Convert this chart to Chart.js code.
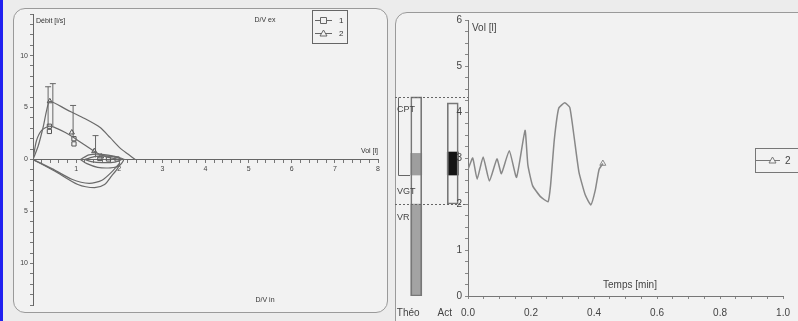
<!DOCTYPE html>
<html>
<head>
<meta charset="utf-8">
<script src="https://cdn.jsdelivr.net/npm/chart.js@4"></script>
<style>
body { margin: 0; background: #ececec; width: 798px; height: 321px; overflow: hidden; position: relative; }
.panel { position: absolute; border: 1px solid #9a9a9a; border-radius: 12px; background: #f2f2f2; }
#p1 { left: 13px; top: 8px; width: 373px; height: 303px; }
#p2 { left: 395px; top: 12px; width: 430px; height: 340px; }
#strip { position: absolute; left: 0; top: 0; width: 3px; height: 321px; background: #2020f0; }
canvas { position: absolute; top: 0; }
</style>
</head>
<body>
<div id="strip"></div>
<div class="panel" id="p1"></div>
<div class="panel" id="p2"></div>
<canvas id="loop" width="395" height="321" style="left:0"></canvas>
<canvas id="bars" width="80" height="321" style="left:392px"></canvas>
<canvas id="spiro" width="403" height="321" style="left:395px"></canvas>
<script>
// boucles débit-volume : vol [l], débit [l/s]
const exp2Vol  = [0, 0.12, 0.24, 0.32, 0.39, 0.78, 1.17, 1.55, 1.79, 2.02, 2.21, 2.37];
const exp2Flow = [0, 1.3, 3.2, 4.8, 5.6, 4.8, 4.0, 3.1, 2.1, 1.1, 0.5, 0];
const insp2Vol  = [0, 0.5, 1.04, 1.43, 1.66, 1.82, 1.97, 2.01];
const insp2Flow = [0, -1.1, -2.4, -2.7, -2.4, -1.6, -0.8, -0.3];
const exp1Vol  = [0, 0.08, 0.2, 0.38, 0.55, 0.75, 0.95, 1.2, 1.45, 1.7, 1.95, 2.15];
const exp1Flow = [0, 1.8, 2.8, 3.2, 3.0, 2.6, 2.1, 1.4, 0.7, 0.25, 0.05, 0];
const insp1Vol  = [0, 0.45, 0.9, 1.3, 1.6, 1.85, 2.0];
const insp1Flow = [0, -0.9, -1.9, -2.3, -2.0, -1.1, -0.4];
const tidal1Vol  = [1.1, 1.3, 1.6, 1.9, 2.1, 2.0, 1.8, 1.5, 1.25, 1.1];
const tidal1Flow = [0, 0.45, 0.5, 0.3, 0, -0.6, -0.8, -0.75, -0.4, 0];
const tidal2Vol  = [1.2, 1.45, 1.7, 1.95, 2.05, 1.9, 1.6, 1.35, 1.2];
const tidal2Flow = [0, 0.3, 0.35, 0.2, 0, -0.25, -0.3, -0.2, 0];
const mark1Vol  = [0.38, 0.38, 0.95, 0.95, 1.55, 1.75, 1.95];
const mark1Flow = [3.2, 2.7, 2.0, 1.5, 0.1, 0.05, 0.05];
const mark2Vol  = [0.39, 0.9, 1.42, 1.58];
const mark2Flow = [5.6, 2.6, 0.8, 0.3];
const errVol  = [0.35, 0.46, 0.93, 1.45];
const errLow  = [3.2, 3.2, 2.2, 0.2];
const errHigh = [7.0, 7.3, 5.2, 2.3];

// spirogramme : temps [min], vol [l]
const timeMin = [0.0, 0.015, 0.029, 0.048, 0.068, 0.092, 0.106, 0.131, 0.154, 0.181, 0.19, 0.205, 0.23, 0.254,
                 0.262, 0.274, 0.288, 0.307, 0.323, 0.336, 0.352, 0.372, 0.39, 0.404, 0.416, 0.428];
const volL    = [2.75, 3.0, 2.54, 3.02, 2.5, 2.98, 2.66, 3.16, 2.58, 3.6, 2.85, 2.4, 2.16, 2.05,
                 2.4, 3.4, 4.08, 4.2, 4.1, 3.5, 2.7, 2.2, 1.98, 2.3, 2.75, 2.88];

// colonnes Théo / Act
const barCats = ['Théo', 'Act'];
const frameRange = [[0, 4.33], [2.0, 4.2]];
const vrRange = [[0, 2.0], null];
const vgtRange = [[2.63, 3.1], [2.63, 3.13]];
const levelLines = [4.33, 2.0];
const predBox = [2.63, 4.33];
const levelNames = ['CPT', 'VGT', 'VR'];
const levelNameAt = [4.05, 2.27, 1.7];

const grey = '#6a6a6a';
const font = '"Liberation Sans", Arial, sans-serif';
const pts = (xs, ys) => xs.map((x, i) => ({x: x, y: ys[i]}));

function curve(xs, ys) {
  return {data: pts(xs, ys), showLine: true, borderColor: grey, borderWidth: 1.2, pointRadius: 0, tension: 0.25};
}
function marks(xs, ys, style) {
  return {data: pts(xs, ys), showLine: false, pointStyle: style, pointRadius: 3,
          borderColor: '#555', borderWidth: 1, backgroundColor: 'rgba(0,0,0,0)'};
}

const loopSets = [
  curve(exp2Vol, exp2Flow), curve(insp2Vol, insp2Flow),
  curve(exp1Vol, exp1Flow), curve(insp1Vol, insp1Flow),
  curve(tidal1Vol, tidal1Flow), curve(tidal2Vol, tidal2Flow),
  marks(mark1Vol, mark1Flow, 'rect'), marks(mark2Vol, mark2Flow, 'triangle')
];
errVol.forEach((v, i) => {
  loopSets.push({data: [{x: v, y: errLow[i]}, {x: v, y: errHigh[i]}], showLine: true,
    borderColor: '#666', borderWidth: 1, pointStyle: 'line', pointRadius: [0, 3]});
});

const loopNotes = {
  id: 'loopNotes',
  afterDraw(chart) {
    const c = chart.ctx, x = chart.scales.x, y = chart.scales.y;
    c.save();
    c.fillStyle = '#333';
    c.font = '7px ' + font;
    c.textBaseline = 'middle';
    c.textAlign = 'left';
    c.fillText('Débit [l/s]', x.left + 3, y.top + 7);
    c.textAlign = 'center';
    c.fillText('D/V ex', 265, y.top + 6);
    c.fillText('D/V in', 265, y.bottom - 5);
    c.textAlign = 'right';
    c.fillText('Vol [l]', x.right, y.getPixelForValue(0) - 8);
    // légende
    c.strokeStyle = '#666';
    c.lineWidth = 1;
    c.strokeRect(312.5, 10.5, 35, 33);
    [20, 33].forEach((ly, i) => {
      c.beginPath(); c.moveTo(315, ly + 0.5); c.lineTo(332, ly + 0.5); c.stroke();
      c.beginPath();
      if (i === 0) c.rect(320.5, ly - 2.5, 6, 6);
      else { c.moveTo(323.5, ly - 3); c.lineTo(327, ly + 3); c.lineTo(320, ly + 3); c.closePath(); }
      c.fillStyle = '#f2f2f2'; c.fill(); c.stroke();
      c.fillStyle = '#333';
      c.textAlign = 'left';
      c.font = '8px ' + font;
      c.fillText(String(i + 1), 339, ly + 1);
    });
    c.restore();
  }
};

new Chart(document.getElementById('loop'), {
  type: 'scatter',
  data: {datasets: loopSets},
  options: {
    responsive: false,
    animation: false,
    layout: {padding: {left: 0, top: 14, right: 17, bottom: 16}},
    plugins: {legend: {display: false}, tooltip: {enabled: false}},
    scales: {
      x: {
        type: 'linear', min: 0, max: 8, position: {y: 0},
        border: {color: '#666'},
        grid: {drawOnChartArea: false, tickLength: 3, color: '#777'},
        ticks: {stepSize: 0.2, autoSkip: false, maxRotation: 0, padding: 2, color: '#444',
          font: {size: 7, family: font},
          callback: v => (v > 0.5 && Math.abs(v - Math.round(v)) < 1e-6) ? String(Math.round(v)) : ''}
      },
      y: {
        min: -14, max: 14,
        afterFit: s => { s.width = 33; },
        border: {color: '#666'},
        grid: {drawOnChartArea: false, tickLength: 3, color: '#777'},
        ticks: {stepSize: 1, autoSkip: false, padding: 2, color: '#444', font: {size: 7, family: font},
          callback: v => (Math.round(v) % 5 === 0) ? String(Math.abs(Math.round(v))) : ''}
      }
    }
  },
  plugins: [loopNotes]
});

const barNotes = {
  id: 'barNotes',
  afterDraw(chart) {
    const c = chart.ctx, y = chart.scales.y;
    c.save();
    c.strokeStyle = '#666';
    c.lineWidth = 1;
    c.setLineDash([2, 2]);
    levelLines.forEach(v => {
      const py = Math.round(y.getPixelForValue(v)) + 0.5;
      c.beginPath(); c.moveTo(3, py); c.lineTo(76, py); c.stroke();
    });
    c.setLineDash([]);
    const top = Math.round(y.getPixelForValue(predBox[1])) + 0.5;
    const bot = Math.round(y.getPixelForValue(predBox[0])) + 0.5;
    c.beginPath(); c.moveTo(6.5, top); c.lineTo(6.5, bot); c.lineTo(18, bot); c.stroke();
    c.fillStyle = '#444';
    c.font = '9px ' + font;
    c.textBaseline = 'middle';
    c.textAlign = 'left';
    levelNames.forEach((n, i) => c.fillText(n, 5, y.getPixelForValue(levelNameAt[i])));
    c.restore();
  }
};

new Chart(document.getElementById('bars'), {
  type: 'bar',
  data: {
    labels: barCats,
    datasets: [
      {data: frameRange, backgroundColor: 'rgba(0,0,0,0)', borderColor: '#777', borderWidth: 1,
       borderSkipped: false, grouped: false, barThickness: 11},
      {data: vrRange, backgroundColor: '#a3a3a3', grouped: false, barThickness: 11},
      {data: vgtRange, backgroundColor: ['#9e9e9e', '#151515'], grouped: false, barThickness: 11}
    ]
  },
  options: {
    responsive: false,
    animation: false,
    layout: {padding: {left: 6, top: 20, right: 1, bottom: 0}},
    plugins: {legend: {display: false}, tooltip: {enabled: false}},
    scales: {
      x: {
        afterFit: s => { s.height = 25; },
        border: {display: false},
        grid: {display: false, drawTicks: false},
        ticks: {padding: 11, labelOffset: -8, color: '#444', font: {size: 10, family: font}}
      },
      y: {display: false, min: 0, max: 6}
    }
  },
  plugins: [barNotes]
});

const spiroNotes = {
  id: 'spiroNotes',
  afterDraw(chart) {
    const c = chart.ctx, x = chart.scales.x, y = chart.scales.y;
    c.save();
    c.fillStyle = '#444';
    c.font = '10px ' + font;
    c.textBaseline = 'middle';
    c.textAlign = 'left';
    c.fillText('Vol [l]', x.left + 4, y.top + 8);
    c.textAlign = 'center';
    c.fillText('Temps [min]', 235, y.bottom - 11);
    // légende
    c.strokeStyle = '#777';
    c.lineWidth = 1;
    c.strokeRect(360.5, 148.5, 50, 24);
    c.beginPath(); c.moveTo(361, 160.5); c.lineTo(385, 160.5); c.stroke();
    c.beginPath(); c.moveTo(377.5, 157); c.lineTo(381, 163); c.lineTo(374, 163); c.closePath();
    c.fillStyle = '#f2f2f2'; c.fill(); c.stroke();
    c.fillStyle = '#444';
    c.textAlign = 'left';
    c.fillText('2', 390, 161);
    c.restore();
  }
};

new Chart(document.getElementById('spiro'), {
  type: 'line',
  data: {
    datasets: [{
      data: pts(timeMin, volL),
      borderColor: '#888', borderWidth: 1.5, tension: 0.15,
      pointStyle: 'triangle',
      pointRadius: ctx => ctx.dataIndex === timeMin.length - 1 ? 3.5 : 0,
      pointBorderColor: '#888', pointBackgroundColor: 'rgba(0,0,0,0)', pointBorderWidth: 1
    }]
  },
  options: {
    responsive: false,
    animation: false,
    layout: {padding: {left: 0, top: 20, right: 10, bottom: 0}},
    plugins: {legend: {display: false}, tooltip: {enabled: false}},
    scales: {
      x: {
        type: 'linear', min: 0, max: 1,
        afterFit: s => { s.height = 25; },
        border: {color: '#777'},
        grid: {drawOnChartArea: false, tickLength: 3, color: '#888'},
        ticks: {stepSize: 0.05, autoSkip: false, maxRotation: 0, padding: 8, color: '#444',
          font: {size: 10, family: font},
          callback: v => (Math.round(v * 100) % 20 === 0) ? v.toFixed(1) : ''}
      },
      y: {
        min: 0, max: 6,
        afterFit: s => { s.width = 73; },
        border: {color: '#777'},
        grid: {drawOnChartArea: false, tickLength: 3, color: '#888'},
        ticks: {stepSize: 0.25, autoSkip: false, padding: 3, color: '#444',
          font: {size: 10, family: font},
          callback: v => Number.isInteger(v) ? String(v) : ''}
      }
    }
  },
  plugins: [spiroNotes]
});
</script>
</body>
</html>
